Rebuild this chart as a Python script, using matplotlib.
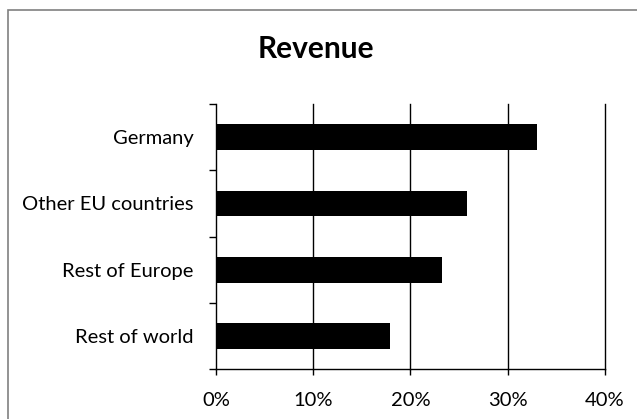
import matplotlib.pyplot as plt
from matplotlib.patches import Rectangle

categories = ['Germany', 'Other EU countries', 'Rest of Europe', 'Rest of world']
revenue_pct = [33.0, 25.8, 23.3, 17.9]
x_ticks = [0, 10, 20, 30, 40]
x_labels = ['0%', '10%', '20%', '30%', '40%']

plt.rcParams['font.family'] = ['Lato', 'DejaVu Sans']

W, H = 637, 419
fig = plt.figure(figsize=(W / 100, H / 100), dpi=100)
ax = fig.add_axes([216 / W, 1 - 369.3 / H, (604.7 - 216) / W, (369.3 - 104) / H])

# outer chart border (cropped at right and bottom in the reference)
fig.patches.append(Rectangle((7.5 / W, -0.1), 1.2, 1 - 10.5 / H + 0.1,
                             transform=fig.transFigure, fill=False,
                             edgecolor='#808080', linewidth=1.2))

y = list(range(len(categories)))[::-1]
ax.barh(y, revenue_pct, height=0.39, color='black', zorder=3)

ax.set_xlim(0, 40)
ax.set_ylim(-0.5, len(categories) - 0.5)
ax.set_xticks(x_ticks)
ax.set_xticklabels(x_labels, fontsize=14.5)
ax.set_yticks(y)
ax.set_yticklabels(categories, fontsize=14.5)
ax.tick_params(axis='y', length=0, pad=16)
ax.set_yticks([v - 0.5 for v in range(len(categories) + 1)], minor=True)
ax.tick_params(axis='y', which='minor', length=5, width=1)
ax.tick_params(axis='x', length=4, width=1, pad=12)

for v in x_ticks[1:]:
    ax.axvline(v, color='black', linewidth=1, zorder=1, clip_on=False)

for s in ['top', 'right']:
    ax.spines[s].set_visible(False)
ax.spines['left'].set_linewidth(1)
ax.spines['bottom'].set_linewidth(1)

fig.text(316 / W, 1 - 49 / H, 'Revenue', ha='center', va='center',
         fontsize=21.5, fontweight='bold')

fig.savefig('out.png', dpi=100)
